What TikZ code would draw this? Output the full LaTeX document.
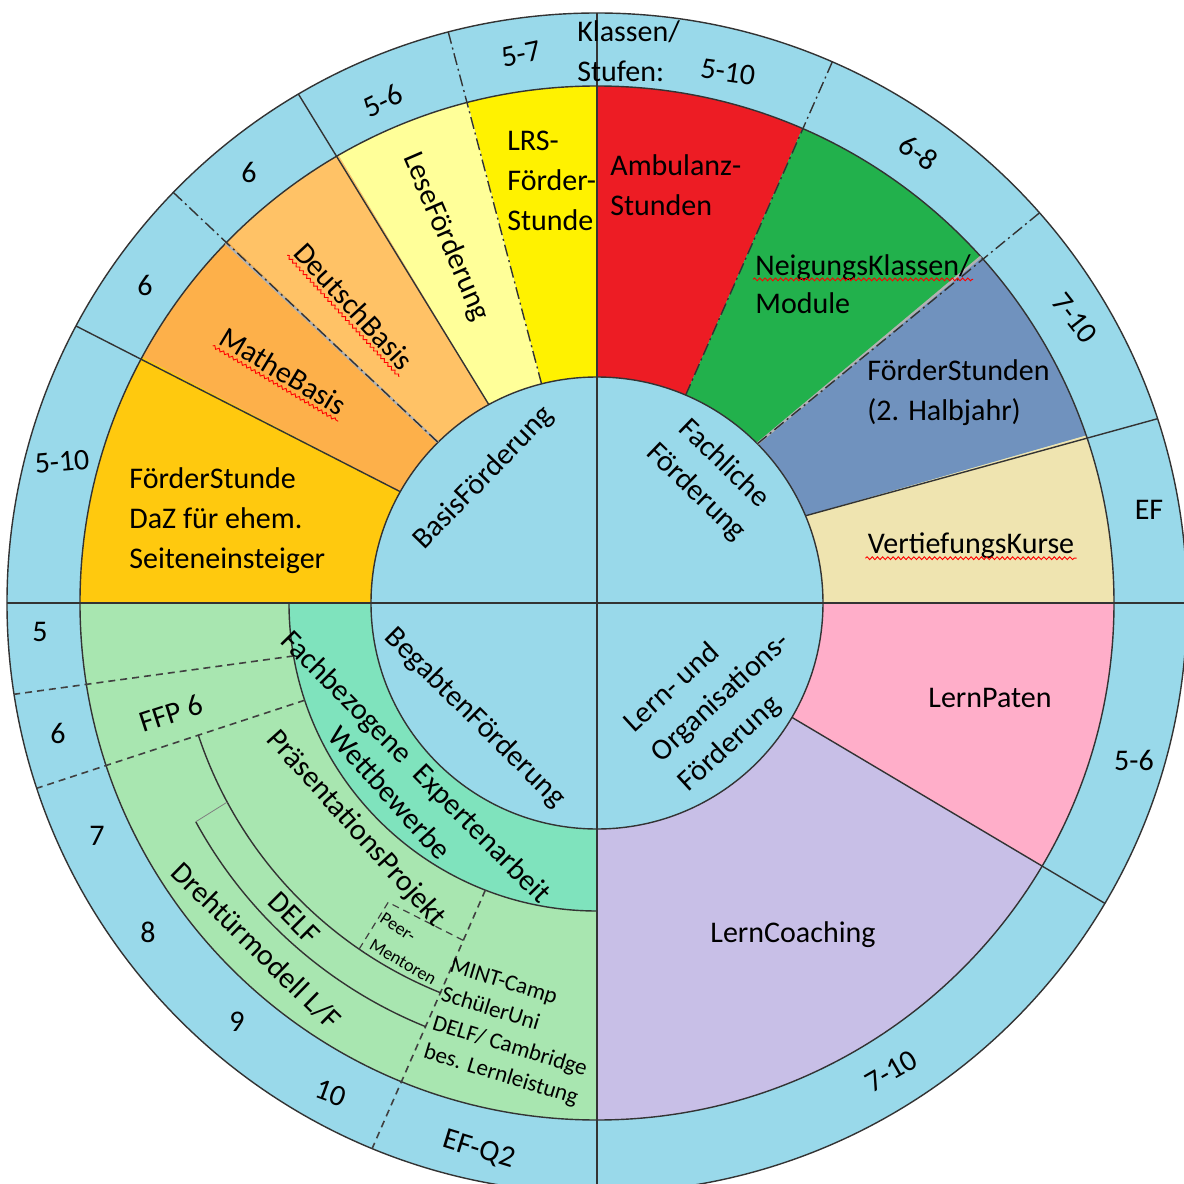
\documentclass[tikz,border=0pt]{standalone}
\usepackage{fontspec}
\setmainfont{Carlito}
\usetikzlibrary{calc,decorations.pathmorphing}
\definecolor{ringblue}{HTML}{99D9EA}
\definecolor{lrsyellow}{HTML}{FFF200}
\definecolor{leseyellow}{HTML}{FFFF99}
\definecolor{deutschor}{HTML}{FFC266}
\definecolor{matheor}{HTML}{FDB04A}
\definecolor{dazgold}{HTML}{FFC90E}
\definecolor{ambred}{HTML}{ED1C24}
\definecolor{neiggreen}{HTML}{22B14C}
\definecolor{foerderblue}{HTML}{7092BE}
\definecolor{vertcream}{HTML}{EFE4B0}
\definecolor{patenrose}{HTML}{FFAEC9}
\definecolor{coachlav}{HTML}{C8BFE7}
\definecolor{begabgreen}{HTML}{A8E6B0}
\definecolor{expteal}{HTML}{7FE3BD}
\newcommand{\qsector}[5]{%
  \fill[#1] (#2:226) arc[start angle=#2, end angle=#4, radius=226] -- (#5:517)
    arc[start angle=#5, end angle=#3, radius=517] -- cycle;}
\newcommand{\redwave}[1]{%
  \draw[wavy] ($(#1.base west)!2.2pt!-90:(#1.base east)$) -- ($(#1.base east)!2.2pt!90:(#1.base west)$);}
\begin{document}
\begin{tikzpicture}[x=0.5pt,y=0.5pt,
  lbl/.style={font=\fontsize{15}{20}\selectfont, inner sep=1pt},
  tinytxt/.style={font=\fontsize{9}{11}\selectfont, inner sep=1pt},
  minttxt/.style={font=\fontsize{11.5}{15}\selectfont, inner sep=1pt},
  ringline/.style={line width=0.7pt, draw=black!80},
  dashdotline/.style={ringline, dash pattern=on 6pt off 2pt on 1pt off 2pt},
  dashline/.style={line width=0.8pt, draw=black!75, dash pattern=on 3.5pt off 2.5pt},
  wavy/.style={draw=red, line width=0.45pt, decorate, decoration={snake, amplitude=0.7pt, segment length=2.6pt}}]
\useasboundingbox (-597,-581) rectangle (587,603);
\fill[white] (-597,-581) rectangle (587,603);
\clip (-597,-581) rectangle (587,603);
% outer ring
\fill[ringblue] (0,0) circle[radius=590];
% BasisFoerderung sectors
\qsector{lrsyellow}{90}{90}{104.2}{104.5}
\qsector{leseyellow}{104.2}{104.5}{118.6}{120.0}
\qsector{deutschor}{118.6}{120.0}{134.7}{135.6}
\qsector{matheor}{134.7}{135.6}{150.5}{151.6}
\qsector{dazgold}{150.5}{151.6}{180}{180}
% Fachliche Foerderung sectors
\qsector{ambred}{66.9}{66.6}{90}{90}
\qsector{neiggreen}{44.8}{42.05}{66.9}{66.6}
\qsector{foerderblue}{22.7}{18.9}{44.8}{42.05}
\qsector{vertcream}{0}{0}{22.7}{18.9}
% Lern- und Organisationsfoerderung
\qsector{patenrose}{-30.4}{-30.55}{0}{0}
\qsector{coachlav}{-90}{-90}{-30.4}{-30.55}
% BegabtenFoerderung
\qsector{begabgreen}{180}{180}{270}{270}
\fill[expteal] (180:226) arc[start angle=180,end angle=270,radius=226] -- (270:308)
  arc[start angle=270,end angle=180,radius=308] -- cycle;
% centre
\fill[ringblue] (0,0) circle[radius=226];
% circles and axes
\draw[ringline] (0,0) circle[radius=590];
\draw[ringline] (0,0) circle[radius=517];
\draw[ringline] (0,0) circle[radius=226];
\draw[ringline] (180:308) arc[start angle=180,end angle=270,radius=308];
\draw[ringline] (0,590) -- (0,-590);
\draw[ringline] (-590,0) -- (590,0);
% dividers upper left
\draw[dashdotline] (104.2:226) -- (104.6:590);
\draw[ringline] (118.6:226) -- (120.4:590);
\draw[line width=1.2pt, black!30] (134.7:226) -- (135.9:517);
\draw[dashdotline] (134.7:226) -- (135.9:590);
\draw[ringline] (150.5:226) -- (152.0:590);
% dividers upper right
\draw[dashdotline] (66.9:226) -- (66.5:590);
\draw[line width=1.2pt, black!30] (44.8:226) -- (42.05:517);
\draw[dashdotline] (44.8:226) -- (41.4:590);
\draw[ringline] (22.7:226) -- (18.2:590);
% divider lower right
\draw[ringline] (-30.4:226) -- (-30.6:590);
% lower left structure
\draw[dashline] (189.9:308) -- (188.9:590);
\draw[dashline] (198.4:308) -- (198.3:590);
\draw[dashline] (248.75:308) -- (247.6:590);
\draw[ringline] (198.3:420) arc[start angle=198.3, end angle=248.2, radius=420];
\draw[ringline] (208.6:457) arc[start angle=208.6, end angle=248, radius=457];
\draw[line width=0.4pt, black!50] (208.3:420) -- (208.6:457);
\draw[dashline, line width=0.6pt] (235.5:420) -- (235.1:365) -- (248.5:363);
% texts upper left
\node[lbl, anchor=west, align=left] (daz) at (-470,82) {FörderStunde\\DaZ für ehem.\\Seiteneinsteiger};
\node[lbl, anchor=west, align=left] (lrs) at (-92,422) {LRS-\\Förder-\\Stunde};
\node[lbl, rotate=-66.6] (lese) at (-151,366) {LeseFörderung};
\node[lbl, rotate=-47.3] (deutsch) at (-243,297) {DeutschBasis};
\node[lbl, rotate=-31] (mathe) at (-314,232) {MatheBasis};
\node[lbl, rotate=45.8] (basis) at (-113,125) {BasisFörderung};
% texts upper right
\node[lbl, anchor=west, align=left] (amb) at (11,418) {Ambulanz-\\Stunden};
\node[lbl, anchor=base west] (neig) at (156,328) {NeigungsKlassen/};
\node[lbl, anchor=base west] (modul) at (156,290) {Module};
\node[lbl, anchor=west, align=left] (foerd) at (268,210) {FörderStunden\\(2. Halbjahr)};
\node[lbl] (vert) at (374,57) {VertiefungsKurse};
\node[lbl, rotate=-44, align=center] (fach) at (113,125) {Fachliche\\Förderung};
% texts lower right
\node[lbl, rotate=42.5, align=left] (lern) at (124,-95) {Lern- und\\Organisations-\\Förderung};
\node[lbl] (paten) at (393,-95) {LernPaten};
\node[lbl] (coach) at (196,-332) {LernCoaching};
% texts lower left
\node[lbl, rotate=-44.7] (begab) at (-122,-115) {BegabtenFörderung};
\node[lbl, rotate=-45.4] (fachb) at (-182,-165) {Fachbezogene\enspace Expertenarbeit};
\node[lbl, rotate=-48] (wett) at (-207,-190) {Wettbewerbe};
\node[lbl, rotate=-48] (praes) at (-241,-226) {PräsentationsProjekt};
\node[lbl, rotate=-45] (delf) at (-303,-315) {DELF};
\node[lbl, rotate=-44.4] (dreh) at (-341,-343) {Drehtürmodell L/F};
\node[lbl, rotate=18] (ffp) at (-426,-110) {FFP 6};
\node[tinytxt, rotate=-33] (peer) at (-199,-324) {Peer-};
\node[tinytxt, rotate=-30] (mentoren) at (-194,-359) {Mentoren};
\node[minttxt, rotate=-17, align=left] (mint) at (-83,-430) {MINT-Camp\\SchülerUni\\DELF/ Cambridge\\bes. Lernleistung};
% outer ring labels
\node[lbl, rotate=5] (o510a) at (-535,141) {5-10};
\node[lbl] (o6a) at (-452,318) {6};
\node[lbl] (o6b) at (-348,431) {6};
\node[lbl, rotate=26] (o56a) at (-214,502) {5-6};
\node[lbl, rotate=12] (o57) at (-76,549) {5-7};
\node[lbl, anchor=west, align=left] (klassen) at (-22,552) {Klassen/\\Stufen:};
\node[lbl, rotate=-8] (o510b) at (131,531) {5-10};
\node[lbl, rotate=-35] (o68) at (322,450) {6-8};
\node[lbl, rotate=-52] (o710a) at (478,285) {7-10};
\node[lbl] (oef) at (552,93) {EF};
\node[lbl] (o56b) at (537,-157) {5-6};
\node[lbl, rotate=30] (o710b) at (294,-468) {7-10};
\node[lbl] (o5) at (-557,-29) {5};
\node[lbl] (o6c) at (-539,-130) {6};
\node[lbl] (o7) at (-500,-233) {7};
\node[lbl] (o8) at (-449,-329) {8};
\node[lbl] (o9) at (-360,-419) {9};
\node[lbl, rotate=-20] (o10) at (-266,-490) {10};
\node[lbl, rotate=-17] (oefq) at (-118,-547) {EF-Q2};
% spell-check underlines
\redwave{mathe}
\redwave{deutsch}
\redwave{neig}
\redwave{vert}
\end{tikzpicture}
\end{document}
